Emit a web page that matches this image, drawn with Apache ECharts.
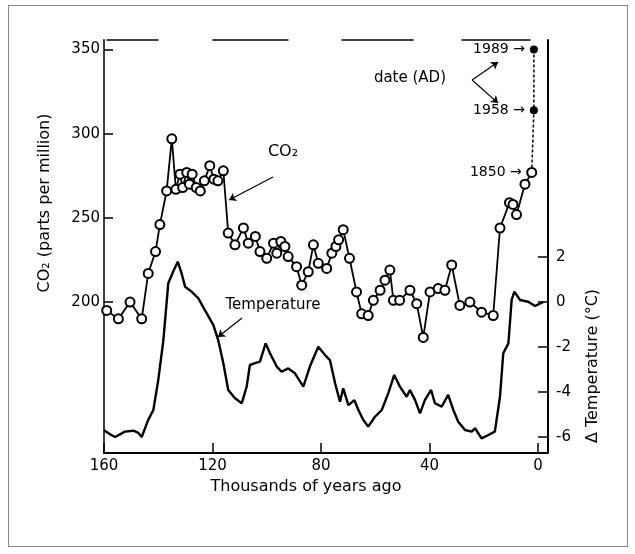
<!DOCTYPE html>
<html><head><meta charset="utf-8">
<script src="https://cdn.jsdelivr.net/npm/echarts@6/dist/echarts.min.js"></script>
<style>
html,body{margin:0;padding:0;background:#fff;}
#frame{position:absolute;left:8px;top:5px;width:618px;height:540px;border:1px solid #8a8a8a;}
#chart{position:absolute;left:0;top:0;width:635px;height:554px;}
</style></head><body>
<div id="frame"></div>
<div id="chart"></div>
<script>
// ---- data ----
const co2Years = [159.0,154.7,150.4,146.1,143.7,141.0,139.4,136.9,135.0,133.5,132.0,131.0,129.5,128.5,127.5,126.0,124.5,123.0,121.0,119.5,118.0,116.0,114.2,111.7,108.6,106.8,104.2,102.5,100.0,97.5,96.3,94.8,93.3,92.1,89.0,87.1,84.7,82.8,81.0,77.9,76.0,74.5,73.5,71.8,69.5,66.9,65.0,62.6,60.7,58.2,56.4,54.6,53.3,51.0,47.2,44.7,42.3,39.8,36.8,34.3,31.8,28.8,25.1,20.8,16.5,14.0,10.5,9.2,7.9,4.8,2.3];
const co2Values = [195,190,200,190,217,230,246,266,297,267,276,268,277,270,276,268,266,272,281,273,272,278,241,234,244,235,239,230,226,235,229,236,233,227,221,210,218,234,223,220,229,233,237,243,226,206,193,192,201,207,213,219,201,201,207,199,179,206,208,207,222,198,200,194,192,244,259,258,252,270,277];
const histYears = [2.3, 1.5, 1.5];
const histValues = [277, 314, 350];
const histLabels = ['1850', '1958', '1989'];
const tempYears = [160.0,157.5,155.9,152.3,149.2,147.5,146.1,143.7,141.8,140.0,138.1,136.3,134.5,132.8,131.4,130.1,127.7,125.2,122.8,119.7,117.9,116.0,114.2,111.7,109.2,107.4,106.2,104.3,102.5,100.4,98.8,96.3,94.5,92.1,89.6,86.5,84.1,81.0,78.5,76.7,74.8,73.0,71.8,69.9,67.7,66.2,64.4,62.6,60.1,57.6,55.2,53.0,50.9,48.4,47.2,45.3,43.5,41.7,39.4,38.0,35.5,33.1,31.2,29.4,26.9,24.4,23.2,20.8,18.3,15.9,14.0,12.8,10.9,9.7,8.7,6.6,3.6,1.1,-2.0];
const tempValues = [-5.7,-5.9,-6.0,-5.76,-5.72,-5.8,-6.0,-5.24,-4.8,-3.47,-1.69,0.83,1.35,1.79,1.27,0.68,0.46,0.16,-0.36,-1.02,-1.69,-2.72,-3.91,-4.28,-4.5,-3.76,-2.8,-2.72,-2.65,-1.84,-2.28,-2.87,-3.1,-2.95,-3.17,-3.76,-2.87,-1.99,-2.36,-2.58,-3.61,-4.43,-3.84,-4.58,-4.36,-4.8,-5.24,-5.54,-5.1,-4.8,-4.06,-3.24,-3.76,-4.21,-3.91,-4.36,-4.95,-4.36,-3.91,-4.5,-4.65,-4.13,-4.8,-5.32,-5.69,-5.76,-5.61,-6.06,-5.91,-5.76,-4.21,-2.28,-1.84,0.09,0.46,0.09,0.01,-0.18,0.0];
const xTicks = [160, 120, 80, 40, 0];
const co2Ticks = [200, 250, 300, 350];
const tempTicks = [-6, -4, -2, 0, 2];

const FONT = 'DejaVu Sans';
const zip = (a, b) => a.map((v, i) => [v, b[i]]);

const chart = echarts.init(document.getElementById('chart'), null, {renderer: 'canvas'});
const arrowLine = {color: '#000', width: 1.2, type: 'solid'};

chart.setOption({
  animation: false,
  backgroundColor: 'transparent',
  grid: {left: 104, right: 87, top: 40, bottom: 101, containLabel: false},
  xAxis: [{
    type: 'value', inverse: true, min: -3.7, max: 160, position: 'bottom',
    name: 'Thousands of years ago', nameLocation: 'middle', nameGap: 24,
    nameTextStyle: {fontFamily: FONT, fontSize: 16, color: '#000', padding: [0, 40, 0, 0]},
    axisLine: {onZero: false, lineStyle: {color: '#000', width: 2}},
    axisTick: {inside: true, length: 10, customValues: xTicks, lineStyle: {color: '#000', width: 1.5}},
    axisLabel: {customValues: xTicks, fontFamily: FONT, fontSize: 15, color: '#000', margin: 6},
    splitLine: {show: false}
  }, {
    type: 'value', min: 0, max: 1, position: 'top',
    axisLine: {onZero: false, lineStyle: {color: '#000', width: 1.5, type: [0, 3, 51, 55, 75, 54, 71, 49, 68, 300]}},
    axisTick: {show: false}, axisLabel: {show: false}, splitLine: {show: false}
  }],
  yAxis: [{
    type: 'value', min: 110.3, max: 355.7, position: 'left',
    name: 'CO₂ (parts per million)', nameLocation: 'middle', nameGap: 51,
    nameTextStyle: {fontFamily: FONT, fontSize: 16, color: '#000', padding: [0, 0, 0, 87]},
    axisLine: {show: true, onZero: false, lineStyle: {color: '#000', width: 1.5}},
    axisTick: {inside: true, length: 9, customValues: co2Ticks, lineStyle: {color: '#000', width: 1.5}},
    axisLabel: {customValues: co2Ticks, fontFamily: FONT, fontSize: 15, color: '#000', margin: 4},
    splitLine: {show: false}
  }, {
    type: 'value', min: -6.71, max: 11.64, position: 'right',
    name: 'Δ Temperature (°C)', nameLocation: 'middle', nameGap: 37,
    nameTextStyle: {fontFamily: FONT, fontSize: 16, color: '#000', padding: [0, 239, 0, 0]},
    axisLine: {show: true, onZero: false, lineStyle: {color: '#000', width: 2}},
    axisTick: {inside: true, length: 10, customValues: tempTicks, lineStyle: {color: '#000', width: 1.5}},
    axisLabel: {customValues: tempTicks, fontFamily: FONT, fontSize: 15, color: '#000', margin: 8},
    splitLine: {show: false}
  }],
  series: [{
    type: 'line', name: 'Temperature', xAxisIndex: 0, yAxisIndex: 1,
    data: zip(tempYears, tempValues), showSymbol: false, symbol: 'none',
    lineStyle: {color: '#000', width: 2.4}, z: 2
  }, {
    type: 'line', name: 'CO2 hist', xAxisIndex: 0, yAxisIndex: 0,
    data: histYears.map((x, i) => ({
      value: [x, histValues[i]],
      symbol: i === 0 ? 'emptyCircle' : 'circle',
      label: {show: true, position: 'left', distance: 5, formatter: histLabels[i] + ' →',
        fontFamily: FONT, fontSize: 14, color: '#000'}
    })),
    symbolSize: 8,
    itemStyle: {color: '#000', borderWidth: 1.8},
    lineStyle: {color: '#000', width: 1.5, type: [3, 2]}, z: 3
  }, {
    type: 'line', name: 'CO2', xAxisIndex: 0, yAxisIndex: 0,
    data: zip(co2Years, co2Values), symbol: 'emptyCircle', symbolSize: 9,
    showSymbol: true, showAllSymbol: true,
    itemStyle: {color: '#000', borderWidth: 1.8},
    lineStyle: {color: '#000', width: 1.8}, z: 4,
    markPoint: {
      silent: true, symbol: 'circle', symbolSize: 0,
      label: {show: true, position: 'inside', color: '#000', fontFamily: FONT, fontSize: 16,
        formatter: p => p.name},
      data: [
        {name: 'CO₂', coord: [94, 289]},
        {name: 'Temperature', coord: [97.7, 198.2], label: {fontSize: 15}},
        {name: 'date (AD)', coord: [47.2, 333.1], label: {fontSize: 15}}
      ]
    },
    markLine: {
      silent: true, symbol: ['none', 'arrow'], symbolSize: 7,
      label: {show: false}, lineStyle: arrowLine,
      data: [
        [{coord: [97.7, 274.3]}, {coord: [113.9, 260.6]}],
        [{coord: [109.1, 190.5]}, {coord: [118.0, 179.2]}],
        [{coord: [24.3, 331.9], lineStyle: {curveness: -0.4}}, {coord: [14.7, 342.6]}],
        [{coord: [24.3, 331.9], lineStyle: {curveness: 0.4}}, {coord: [14.7, 318.2]}]
      ]
    }
  }]
});
</script>
</body></html>
